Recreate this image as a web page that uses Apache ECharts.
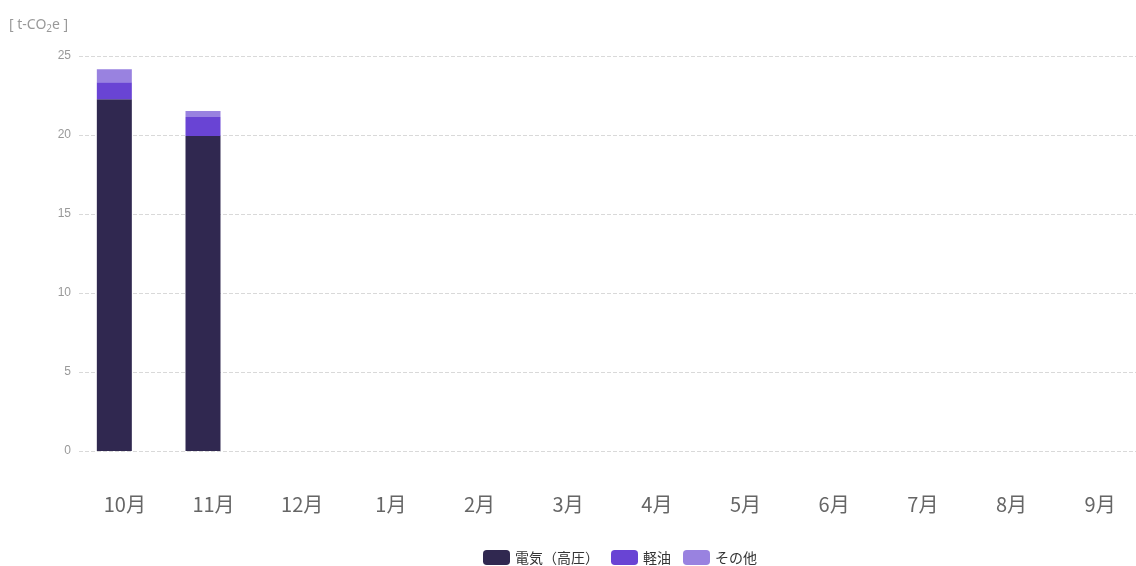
<!DOCTYPE html>
<html><head><meta charset="utf-8">
<script src="https://cdn.jsdelivr.net/npm/echarts@6/dist/echarts.min.js"></script>
<style>html,body{margin:0;padding:0;background:#fff}#c{width:1136px;height:566px}</style>
</head><body><div id="c"></div>
<script>
const categories = ['10月','11月','12月','1月','2月','3月','4月','5月','6月','7月','8月','9月'];
const seriesNames = ['電気（高圧）','軽油','その他'];
const electricity = [22.26, 19.94, null, null, null, null, null, null, null, null, null, null];
const diesel = [1.08, 1.2, null, null, null, null, null, null, null, null, null, null];
const other = [0.82, 0.38, null, null, null, null, null, null, null, null, null, null];
const emptyGroup = [null, null, null, null, null, null, null, null, null, null, null, null];
const colors = ['#302850', '#6944d4', '#9982e0'];

const chart = echarts.init(document.getElementById('c'));
chart.setOption({
  animation: false,
  title: {
    text: '[ t-CO{sub|2}e ]',
    left: 4, top: 11,
    textStyle: {
      fontSize: 14, color: '#999', fontWeight: 'normal', fontFamily: 'Noto Sans',
      rich: { sub: { fontSize: 10, color: '#999', verticalAlign: 'bottom', padding: [8,0,0,0] } }
    }
  },
  legend: {
    bottom: -4, left: 478,
    icon: 'roundRect', itemWidth: 27, itemHeight: 15, itemGap: 12,
    textStyle: { fontSize: 14, color: '#333', fontFamily: 'Noto Sans CJK JP' },
    data: seriesNames
  },
  grid: { left: 79, top: 56, width: 1064, height: 395, outerBoundsMode: 'none', containLabel: false },
  xAxis: {
    type: 'category', data: categories,
    axisLine: { show: false }, axisTick: { show: false },
    axisLabel: { fontSize: 20, color: '#666', margin: 43, padding: [0,0,0,3], fontFamily: 'Noto Sans CJK JP' }
  },
  yAxis: {
    type: 'value', min: 0, max: 25, interval: 5,
    axisLabel: { fontSize: 12, color: '#999', margin: 8 },
    splitLine: { lineStyle: { type: 'dashed', color: '#d9d9d9' } }
  },
  series: [
    { name: seriesNames[0], type: 'bar', stack: 'a', barWidth: 35, barGap: '0%', data: electricity, itemStyle: { color: colors[0] } },
    { name: seriesNames[1], type: 'bar', stack: 'a', barWidth: 35, barGap: '0%', data: diesel, itemStyle: { color: colors[1] } },
    { name: seriesNames[2], type: 'bar', stack: 'a', barWidth: 35, barGap: '0%', data: other, itemStyle: { color: colors[2] } },
    { name: 'spacer', type: 'bar', stack: 'b', barWidth: 18, barGap: '0%', data: emptyGroup, silent: true, itemStyle: { color: 'transparent' } }
  ]
});
</script></body></html>
